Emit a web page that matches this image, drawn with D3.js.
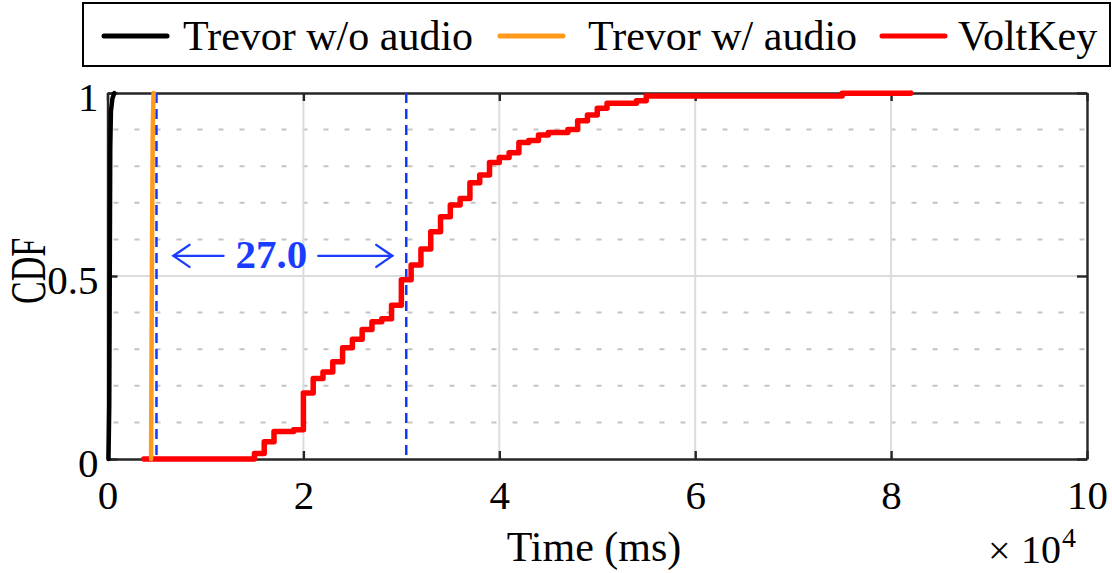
<!DOCTYPE html>
<html><head><meta charset="utf-8">
<script src="https://cdn.jsdelivr.net/npm/d3@7"></script>
<style>
body{margin:0;background:#fff}
svg{display:block}
text{font-family:"Liberation Serif","Times New Roman",serif;fill:#000}
</style>
</head><body>
<svg id="chart" width="1112" height="573"></svg>
<script>
// ---- data ----
const seriesNames = ["Trevor w/o audio", "Trevor w/ audio", "VoltKey"];
const seriesColors = ["#000000", "#FF9A1A", "#FF0000"];

const trevorNoAudioTime = [100, 180, 230, 280, 350, 500, 700];
const trevorNoAudioCdf  = [0, 0.15, 0.5, 0.85, 0.95, 0.985, 1];

const trevorAudioTime = [4450, 4500, 4550, 4620, 4700];
const trevorAudioCdf  = [0, 0.3, 0.6, 0.9, 1];

const voltKeyTime = [3700, 15000, 16000, 17000, 19000, 20000, 21000, 22000, 23000, 24000,
  25000, 26000, 27000, 28000, 29000, 30000, 31000, 32000, 33000, 34000,
  35000, 36000, 37000, 38000, 39000, 40000, 41000, 42000, 43000, 44000,
  45000, 47000, 48000, 49000, 50000, 51000, 54000, 55000, 75000, 82000];
const voltKeyCdf = [0, 0.015, 0.047, 0.075, 0.08, 0.18, 0.22, 0.238, 0.266, 0.304,
  0.327, 0.354, 0.375, 0.383, 0.42, 0.49, 0.53, 0.574, 0.621, 0.662,
  0.694, 0.712, 0.755, 0.776, 0.81, 0.824, 0.837, 0.865, 0.87, 0.885,
  0.892, 0.90, 0.924, 0.94, 0.958, 0.972, 0.979, 0.992, 0.999, 1];

const xTickValues = [0, 20000, 40000, 60000, 80000, 100000];
const xTickLabels = ["0", "2", "4", "6", "8", "10"];
const yTickValues = [0, 0.5, 1];
const yTickLabels = ["0", "0.5", "1"];
const yMinorGrid = [0.1, 0.2, 0.3, 0.4, 0.6, 0.7, 0.8, 0.9];
const markerTimes = [5000, 30500];
const markerLabel = "27.0";
const markerCdf = 0.555;
const xLabel = "Time (ms)";
const yLabel = "CDF";
const xMultiplier = ["\u00D7", "10", "4"];

// ---- layout ----
const L = 107.5, R = 1087, T = 93, B = 459;
const svg = d3.select("#chart");
const x = d3.scaleLinear().domain([0, 100000]).range([L, R]);
const y = d3.scaleLinear().domain([0, 1]).range([B, T]);
const axisColor = "#262626";

// grid
const g = svg.append("g");
g.selectAll("line.minor").data(yMinorGrid).join("line")
  .attr("x1", L).attr("x2", R).attr("y1", d => y(d)).attr("y2", d => y(d))
  .attr("stroke", "#c4c4c4").attr("stroke-width", 2)
  .attr("stroke-dasharray", "5,16").attr("stroke-dashoffset", 15);
g.selectAll("line.vmaj").data(xTickValues.slice(1, -1)).join("line")
  .attr("x1", d => x(d)).attr("x2", d => x(d)).attr("y1", T).attr("y2", B)
  .attr("stroke", "#dcdcdc").attr("stroke-width", 2);
g.append("line").attr("x1", L).attr("x2", R).attr("y1", y(0.5)).attr("y2", y(0.5))
  .attr("stroke", "#dcdcdc").attr("stroke-width", 2);

// axes
function styleAxis(sel) {
  sel.selectAll("path.domain").attr("stroke", axisColor).attr("stroke-width", 2.4);
  sel.selectAll(".tick line").attr("stroke", axisColor).attr("stroke-width", 2.4);
  sel.selectAll(".tick text").attr("font-family", '"Liberation Serif","Times New Roman",serif')
    .attr("font-size", 41).attr("fill", "#000");
}
const xAxis = svg.append("g").attr("transform", `translate(0,${B})`)
  .call(d3.axisBottom(x).tickValues(xTickValues).tickFormat((d, i) => xTickLabels[i])
    .tickSizeInner(-8).tickSizeOuter(0).tickPadding(21));
styleAxis(xAxis);
const xAxisTop = svg.append("g").attr("transform", `translate(0,${T})`)
  .call(d3.axisTop(x).tickValues(xTickValues).tickFormat("").tickSizeInner(-8).tickSizeOuter(0));
styleAxis(xAxisTop);
const yAxis = svg.append("g").attr("transform", `translate(${L},0)`)
  .call(d3.axisLeft(y).tickValues(yTickValues).tickFormat((d, i) => yTickLabels[i])
    .tickSizeInner(-10).tickSizeOuter(0).tickPadding(9));
styleAxis(yAxis);
yAxis.selectAll(".tick text").attr("dy", "0.42em");
const yAxisRight = svg.append("g").attr("transform", `translate(${R},0)`)
  .call(d3.axisRight(y).tickValues(yTickValues).tickFormat("").tickSizeInner(-10).tickSizeOuter(0));
styleAxis(yAxisRight);

// marker lines
svg.selectAll("line.marker").data(markerTimes).join("line")
  .attr("x1", d => x(d)).attr("x2", d => x(d)).attr("y1", T).attr("y2", B + 2)
  .attr("stroke", "#1038FF").attr("stroke-width", 2.5).attr("stroke-dasharray", "10,6");

// series
const series = [
  {t: trevorNoAudioTime, c: trevorNoAudioCdf, curve: d3.curveLinear, w: 4.5},
  {t: trevorAudioTime, c: trevorAudioCdf, curve: d3.curveLinear, w: 4.5},
  {t: voltKeyTime, c: voltKeyCdf, curve: d3.curveStepAfter, w: 5.5}
];
[2, 1, 0].forEach(i => {
  const s = series[i];
  const pts = s.t.map((v, j) => [v, s.c[j]]);
  svg.append("path").datum(pts)
    .attr("d", d3.line().x(d => x(d[0])).y(d => y(d[1])).curve(s.curve))
    .attr("fill", "none").attr("stroke", seriesColors[i]).attr("stroke-width", s.w)
    .attr("stroke-linejoin", "round").attr("stroke-linecap", "round");
});

// annotation
const blue = "#1A3CFF";
const ay = y(markerCdf);
const ax0 = x(markerTimes[0]), ax1 = x(markerTimes[1]);
const ann = svg.append("g").attr("stroke", blue).attr("stroke-width", 2.4).attr("fill", "none")
  .attr("stroke-linecap", "round");
const la = ax0 + 17, lb = ax0 + 67, ra = ax1 - 88, rb = ax1 - 14;
ann.append("line").attr("x1", la).attr("x2", lb).attr("y1", ay).attr("y2", ay);
ann.append("path").attr("d", `M${la + 16},${ay - 11} L${la},${ay} L${la + 16},${ay + 11}`);
ann.append("line").attr("x1", ra).attr("x2", rb).attr("y1", ay).attr("y2", ay);
ann.append("path").attr("d", `M${rb - 16},${ay - 11} L${rb},${ay} L${rb - 16},${ay + 11}`);
svg.append("text").attr("x", ax0 + 115).attr("y", ay + 12)
  .attr("text-anchor", "middle").attr("font-size", 41).attr("font-weight", "bold")
  .style("fill", blue).text(markerLabel);

// axis labels
svg.append("text").attr("x", 594).attr("y", 561).attr("text-anchor", "middle")
  .attr("font-size", 42).text(xLabel);
svg.append("text").attr("transform", "translate(45,271) rotate(-90)")
  .attr("text-anchor", "middle").attr("font-size", 50)
  .attr("textLength", 66).attr("lengthAdjust", "spacingAndGlyphs").text(yLabel);
svg.append("text").attr("x", 988).attr("y", 564).attr("font-size", 40).text(xMultiplier[0]);
svg.append("text").attr("x", 1021).attr("y", 563).attr("font-size", 40).text(xMultiplier[1]);
svg.append("text").attr("x", 1062).attr("y", 547).attr("font-size", 28).text(xMultiplier[2]);

// legend
const leg = svg.append("g");
leg.append("rect").attr("x", 83).attr("y", 3).attr("width", 1027).attr("height", 63)
  .attr("fill", "#fff").attr("stroke", "#000").attr("stroke-width", 2);
const legLineX = [104, 500, 882];
const legTextX = [183, 588, 958];
seriesNames.forEach((n, i) => {
  leg.append("line").attr("x1", legLineX[i]).attr("x2", legLineX[i] + 63)
    .attr("y1", 36).attr("y2", 36).attr("stroke", seriesColors[i]).attr("stroke-width", 5)
    .attr("stroke-linecap", "round");
  leg.append("text").attr("x", legTextX[i]).attr("y", 50).attr("font-size", 42).text(n);
});
</script>
</body></html>
